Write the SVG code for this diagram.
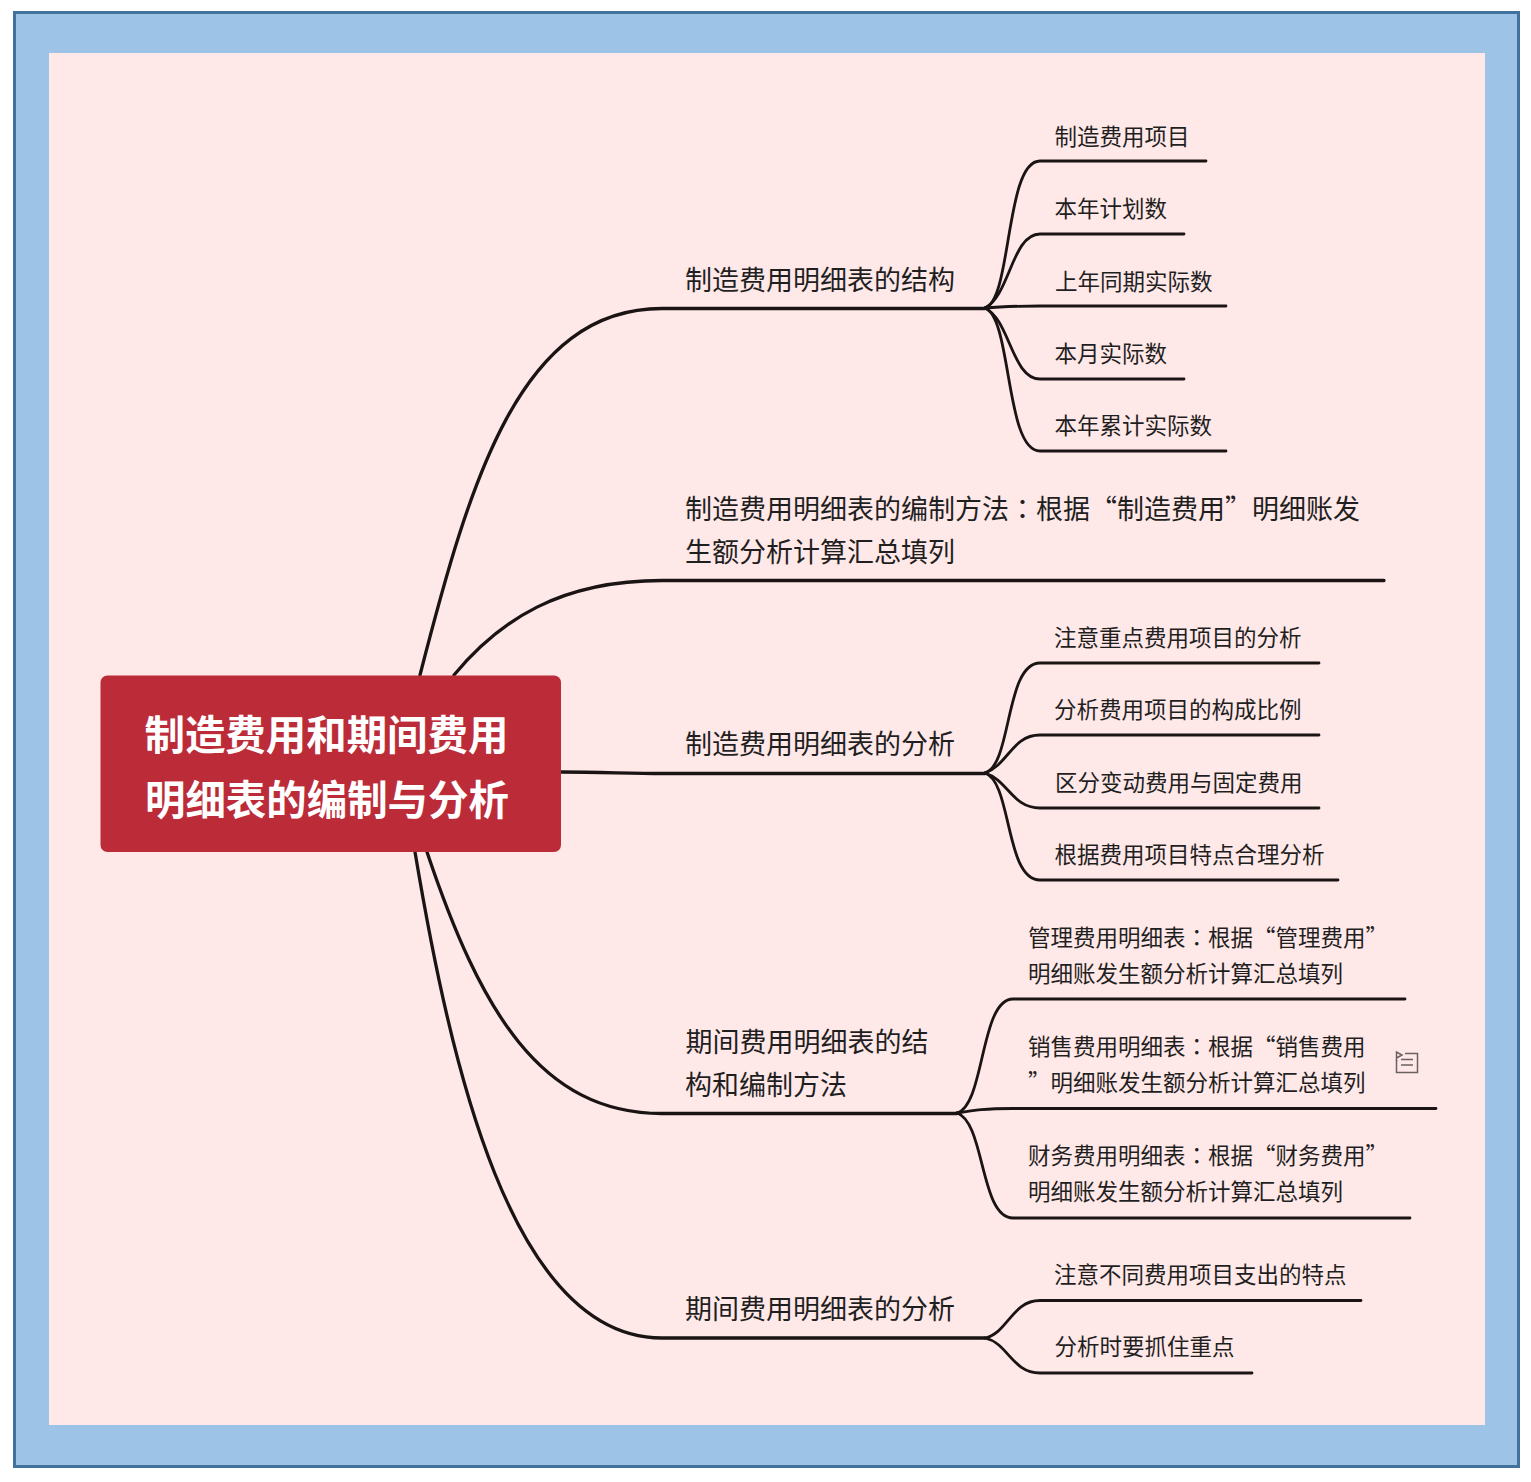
<svg xmlns="http://www.w3.org/2000/svg" width="1531" height="1482" viewBox="0 0 1531 1482">
<style>
text{font-family:"Noto Sans CJK SC","Liberation Sans",sans-serif;fill:#1f1f1f}
.m{font-size:27px}
.l{font-size:22.5px}
.r{font-size:40.45px;font-weight:700;fill:#fff}
.k{font-family:"Noto Sans CJK TC","Liberation Sans",sans-serif}
.c{fill:none;stroke:#1a1414;stroke-width:2.800;stroke-linecap:round}
.t{fill:none;stroke:#1a1414;stroke-width:3.300;stroke-linecap:round}
</style>
<rect x="14.500" y="12.500" width="1504" height="1454" fill="#9dc3e6" stroke="#41719c" stroke-width="3"/>
<rect x="49" y="53" width="1436" height="1372" fill="#ffe8e8"/>
<g id="connectors">
<path class="t" d="M420 675C470 480 520 308.500 662 308.500H985"/>
<path class="t" d="M454 675C500 620 560 580.500 662 580.500H1384"/>
<path class="t" d="M561 772C600 772 630 773.500 662 773.500H985"/>
<path class="t" d="M427 852C480 1010 540 1113.500 662 1113.500H957"/>
<path class="t" d="M415 852C450 1060 510 1338 662 1338H985"/>
<path class="c" d="M985 308C1012 300 1005 161 1040 161H1206"/>
<path class="c" d="M985 308C1010 295 1012 234 1040 234H1184"/>
<path class="c" d="M985 308C1005 306 1015 306 1040 306H1226"/>
<path class="c" d="M985 308C1010 320 1012 379 1040 379H1184"/>
<path class="c" d="M985 308C1012 318 1005 451 1040 451H1226"/>
<path class="c" d="M985 773C1012 765 1005 663 1040 663H1319"/>
<path class="c" d="M985 773C1008 765 1012 735 1040 735H1319"/>
<path class="c" d="M985 773C1008 780 1012 808 1040 808H1319"/>
<path class="c" d="M985 773C1012 782 1005 880 1040 880H1338"/>
<path class="c" d="M957 1113C985 1105 980 999 1013 999H1405"/>
<path class="c" d="M957 1113C975 1110 985 1108.500 1013 1108.500H1436"/>
<path class="c" d="M957 1113C985 1122 980 1218 1013 1218H1410"/>
<path class="c" d="M985 1338C1008 1333 1012 1300.500 1040 1300.500H1361"/>
<path class="c" d="M985 1338C1008 1343 1012 1373 1040 1373H1252"/>
</g>
<g id="root"><rect x="100.500" y="675.500" width="460.500" height="176.500" rx="7" fill="#bc2c38"/>
<text class="r" x="144.500" y="750">制造费用和期间费用</text>
<text class="r" x="145" y="815">明细表的编制与分析</text></g>
<g id="n1"><text class="m" x="685" y="290">制造费用明细表的结构</text></g>
<g id="n2"><text class="m" x="685" y="519">制造费用明细表的编制方法<tspan class="k">：</tspan>根据“制造费用”明细账发</text>
<text class="m" x="685" y="562">生额分析计算汇总填列</text></g>
<g id="n3"><text class="m" x="685" y="754">制造费用明细表的分析</text></g>
<g id="n4"><text class="m" x="685.500" y="1051.500">期间费用明细表的结</text>
<text class="m" x="685" y="1095">构和编制方法</text></g>
<g id="n5"><text class="m" x="685" y="1319">期间费用明细表的分析</text></g>
<g id="a1"><text class="l" x="1054.500" y="145">制造费用项目</text></g>
<g id="a2"><text class="l" x="1054.500" y="217">本年计划数</text></g>
<g id="a3"><text class="l" x="1055" y="290">上年同期实际数</text></g>
<g id="a4"><text class="l" x="1054.500" y="362">本月实际数</text></g>
<g id="a5"><text class="l" x="1054.500" y="434">本年累计实际数</text></g>
<g id="b1"><text class="l" x="1054" y="646">注意重点费用项目的分析</text></g>
<g id="b2"><text class="l" x="1054" y="718">分析费用项目的构成比例</text></g>
<g id="b3"><text class="l" x="1055" y="791">区分变动费用与固定费用</text></g>
<g id="b4"><text class="l" x="1054.500" y="863">根据费用项目特点合理分析</text></g>
<g id="c1"><text class="l" x="1028" y="945.500">管理费用明细表<tspan class="k">：</tspan>根据“管理费用”</text>
<text class="l" x="1028" y="982">明细账发生额分析计算汇总填列</text></g>
<g id="c2"><text class="l" x="1028" y="1054.500">销售费用明细表<tspan class="k">：</tspan>根据“销售费用</text>
<text class="l" x="1028" y="1091">”明细账发生额分析计算汇总填列</text>
<g fill="none" stroke="#6b6161" stroke-width="1.500"><path d="M1405 1053.500H1417.500V1072.500H1396.500V1060"/><path d="M1401 1059.500H1413M1401 1065H1413"/><path d="M1396.500 1061V1052L1402 1055L1396.500 1058"/></g></g>
<g id="c3"><text class="l" x="1028" y="1164">财务费用明细表<tspan class="k">：</tspan>根据“财务费用”</text>
<text class="l" x="1028" y="1200">明细账发生额分析计算汇总填列</text></g>
<g id="d1"><text class="l" x="1054" y="1283">注意不同费用项目支出的特点</text></g>
<g id="d2"><text class="l" x="1054.500" y="1355">分析时要抓住重点</text></g>
</svg>
